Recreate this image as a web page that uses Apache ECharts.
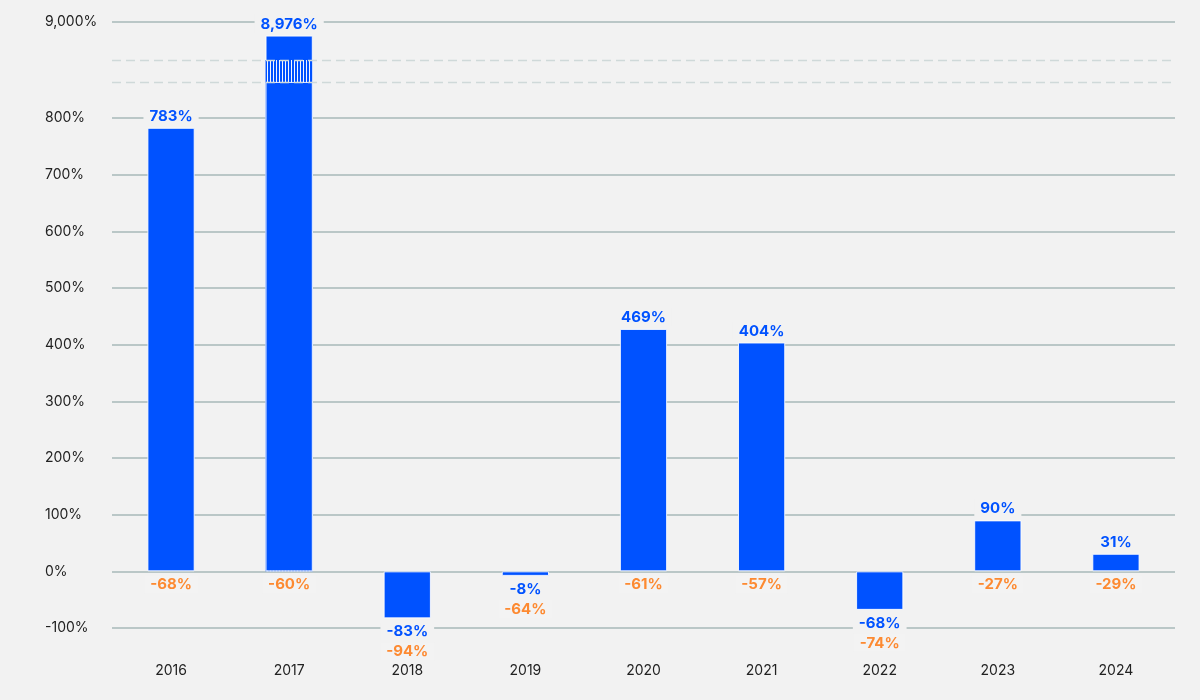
<!DOCTYPE html>
<html>
<head>
<meta charset="utf-8">
<script src="https://cdn.jsdelivr.net/npm/echarts@6/dist/echarts.min.js"></script>
<style>
html,body{margin:0;padding:0;background:#f2f2f2;}
#chart{width:1200px;height:700px;}
</style>
</head>
<body>
<div id="chart"></div>
<script>
// Years
var years = ['2016','2017','2018','2019','2020','2021','2022','2023','2024'];
// Annual return (label text, %)
var returns = [783, 8976, -83, -8, 469, 404, -68, 90, 31];
// Bar heights as drawn in the reference (%)
var barHeights = [783, 8976, -83, -8, 428, 404, -68, 90, 31];
// Maximum drawdown (%)
var drawdowns = [-68, -60, -94, -64, -61, -57, -74, -27, -29];
// Y axis
var yMin = -100, yMax = 9000, yInterval = 100;
var breakStart = 864, breakEnd = 8933;
// Ticks next to the axis break that ECharts prunes; drawn as extra grid lines
var extraTicks = [800, 9000];

var BLUE = '#0052ff', ORANGE = '#ff6f00', BG = '#f2f2f2', GRID = '#bac7c7';
var FONT = 'Inter';

function fmtPct(v){ return v.toLocaleString('en-US') + '%'; }

var stripedData = barHeights.map(function(v){ return v > breakEnd ? breakEnd : null; });
var lowerData = barHeights.map(function(v){ return v > breakEnd ? breakStart : null; });

var chart = echarts.init(document.getElementById('chart'), null, {renderer:'canvas'});
chart.setOption({
  backgroundColor: BG,
  animation: false,
  grid: {left: 112, right: 25, top: 22, bottom: 72, containLabel: false},
  xAxis: {
    type: 'category',
    data: years,
    axisLine: {show: false},
    axisTick: {show: false},
    axisLabel: {color: '#222', fontSize: 14, fontFamily: FONT, margin: 36}
  },
  yAxis: {
    type: 'value',
    min: yMin, max: yMax, interval: yInterval,
    breaks: [{start: breakStart, end: breakEnd, gap: '3.63%'}],
    breakArea: {
      show: true,
      zigzagAmplitude: 0,
      expandOnClick: false,
      itemStyle: {color: 'rgba(0,0,0,0)', borderColor: '#cfd9d9', borderWidth: 1.5, borderType: [9,5], opacity: 1}
    },
    axisLine: {show: false},
    axisTick: {show: false},
    splitLine: {lineStyle: {color: GRID, width: 2}},
    axisLabel: {
      color: '#222', fontSize: 14, fontFamily: FONT, align: 'left', margin: 67,
      formatter: function(v){ return (v % 100 === 0 && v < 800) ? fmtPct(v) : ''; }
    }
  },
  series: [
    {
      type: 'line',
      name: 'extraGrid',
      data: [],
      z: 1,
      silent: true,
      markLine: {
        silent: true,
        symbol: 'none',
        animation: false,
        z: 1,
        lineStyle: {color: GRID, width: 2, type: 'solid'},
        label: {
          position: 'start', distance: 67, align: 'left',
          color: '#222', fontSize: 14, fontFamily: FONT,
          formatter: function(p){ return fmtPct(p.value); }
        },
        data: extraTicks.map(function(v){ return {yAxis: v}; })
      }
    },
    {
      type: 'bar',
      name: 'return',
      data: barHeights.map(function(v, i){
        return {
          value: v,
          label: {
            show: true,
            position: v >= 0 ? 'top' : 'bottom',
            distance: v >= 0 ? 3 : 4,
            formatter: fmtPct(returns[i])
          }
        };
      }),
      barWidth: '40%',
      itemStyle: {color: BLUE, borderColor: 'rgba(255,255,255,0.85)', borderWidth: 1},
      label: {
        color: BLUE, fontSize: 15, fontWeight: 'bold', fontFamily: FONT,
        backgroundColor: BG, padding: [2, 6, 1, 6]
      },
      z: 2
    },
    {
      type: 'bar',
      name: 'striped',
      data: stripedData,
      barWidth: '40%',
      barGap: '-100%',
      itemStyle: {
        color: BLUE,
        decal: {symbol: 'rect', symbolSize: 1, color: 'rgba(255,255,255,0.95)', dashArrayX: [1, 2], dashArrayY: [20, 0], rotation: 0}
      },
      silent: true,
      z: 3
    },
    {
      type: 'bar',
      name: 'lower',
      data: lowerData,
      barWidth: '40%',
      barGap: '-100%',
      itemStyle: {color: BLUE, borderColor: 'rgba(255,255,255,0.85)', borderWidth: 1},
      silent: true,
      z: 4
    },
    {
      type: 'scatter',
      name: 'drawdown',
      symbolSize: 0,
      data: barHeights.map(function(v, i){
        return {
          value: Math.min(v, 0),
          label: {
            show: true,
            position: 'bottom',
            distance: v >= 0 ? 4 : 24,
            formatter: fmtPct(drawdowns[i])
          }
        };
      }),
      label: {
        color: ORANGE, fontSize: 15, fontWeight: 'bold', fontFamily: FONT,
        backgroundColor: BG, padding: [2, 6, 1, 6]
      },
      z: 5
    }
  ]
});
</script>
</body>
</html>
